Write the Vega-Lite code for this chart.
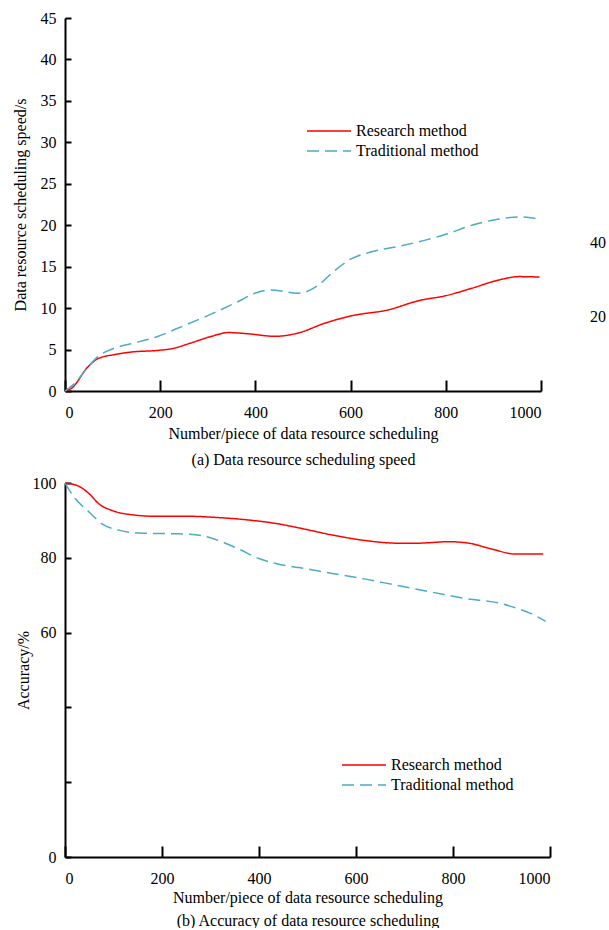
{
  "$schema": "https://vega.github.io/schema/vega-lite/v6.json",
  "padding": {"left": 12, "top": 10, "right": 5, "bottom": 0},
  "background": "white",
  "config": {
    "view": {"stroke": null},
    "font": "Liberation Serif, serif",
    "axis": {
      "domainColor": "black",
      "domainWidth": 2,
      "tickColor": "black",
      "tickWidth": 2,
      "grid": false,
      "labelFont": "Liberation Serif, serif",
      "labelFontSize": 16,
      "labelColor": "black",
      "titleFont": "Liberation Serif, serif",
      "titleFontSize": 16,
      "titleFontWeight": "normal",
      "titleColor": "black",
      "format": "d"
    },
    "axisX": {"tickSize": -11, "labelPadding": 24, "labelAngle": 0, "titleLineHeight": 24, "titlePadding": 5},
    "axisY": {"tickSize": -6, "labelPadding": 15},
    "legend": {
      "orient": "none",
      "symbolType": "M-2,0L2,0",
      "symbolSize": 484,
      "symbolStrokeWidth": 1.5,
      "labelFont": "Liberation Serif, serif",
      "labelFontSize": 16,
      "labelColor": "black",
      "rowPadding": 0,
      "labelOffset": 15,
      "title": null
    }
  },
  "datasets": {
    "speed": [
      {"n": 0, "v": 0, "method": "Research method"},
      {"n": 13, "v": 0.3, "method": "Research method"},
      {"n": 48, "v": 2.9, "method": "Research method"},
      {"n": 69, "v": 3.9, "method": "Research method"},
      {"n": 105, "v": 4.4, "method": "Research method"},
      {"n": 139, "v": 4.7, "method": "Research method"},
      {"n": 196, "v": 4.9, "method": "Research method"},
      {"n": 224, "v": 5.1, "method": "Research method"},
      {"n": 265, "v": 5.8, "method": "Research method"},
      {"n": 308, "v": 6.6, "method": "Research method"},
      {"n": 343, "v": 7.05, "method": "Research method"},
      {"n": 385, "v": 6.9, "method": "Research method"},
      {"n": 441, "v": 6.6, "method": "Research method"},
      {"n": 490, "v": 7.0, "method": "Research method"},
      {"n": 547, "v": 8.2, "method": "Research method"},
      {"n": 600, "v": 9.05, "method": "Research method"},
      {"n": 680, "v": 9.8, "method": "Research method"},
      {"n": 743, "v": 10.9, "method": "Research method"},
      {"n": 800, "v": 11.5, "method": "Research method"},
      {"n": 855, "v": 12.4, "method": "Research method"},
      {"n": 912, "v": 13.4, "method": "Research method"},
      {"n": 954, "v": 13.8, "method": "Research method"},
      {"n": 997, "v": 13.75, "method": "Research method"},
      {"n": 0, "v": 0, "method": "Traditional method"},
      {"n": 20, "v": 0.9, "method": "Traditional method"},
      {"n": 48, "v": 2.9, "method": "Traditional method"},
      {"n": 69, "v": 4.15, "method": "Traditional method"},
      {"n": 105, "v": 5.2, "method": "Traditional method"},
      {"n": 139, "v": 5.7, "method": "Traditional method"},
      {"n": 196, "v": 6.6, "method": "Traditional method"},
      {"n": 238, "v": 7.6, "method": "Traditional method"},
      {"n": 308, "v": 9.3, "method": "Traditional method"},
      {"n": 364, "v": 10.8, "method": "Traditional method"},
      {"n": 399, "v": 11.8, "method": "Traditional method"},
      {"n": 432, "v": 12.2, "method": "Traditional method"},
      {"n": 490, "v": 11.8, "method": "Traditional method"},
      {"n": 533, "v": 12.8, "method": "Traditional method"},
      {"n": 560, "v": 14.2, "method": "Traditional method"},
      {"n": 600, "v": 15.9, "method": "Traditional method"},
      {"n": 644, "v": 16.8, "method": "Traditional method"},
      {"n": 701, "v": 17.45, "method": "Traditional method"},
      {"n": 757, "v": 18.2, "method": "Traditional method"},
      {"n": 800, "v": 18.9, "method": "Traditional method"},
      {"n": 855, "v": 20.0, "method": "Traditional method"},
      {"n": 912, "v": 20.75, "method": "Traditional method"},
      {"n": 954, "v": 21.0, "method": "Traditional method"},
      {"n": 997, "v": 20.75, "method": "Traditional method"}
    ],
    "accuracy": [
      {"n": 0, "v": 100, "method": "Research method"},
      {"n": 29, "v": 99.1, "method": "Research method"},
      {"n": 50, "v": 97.1, "method": "Research method"},
      {"n": 70, "v": 94.4, "method": "Research method"},
      {"n": 98, "v": 92.6, "method": "Research method"},
      {"n": 139, "v": 91.5, "method": "Research method"},
      {"n": 187, "v": 91.1, "method": "Research method"},
      {"n": 256, "v": 91.1, "method": "Research method"},
      {"n": 311, "v": 90.8, "method": "Research method"},
      {"n": 379, "v": 90.1, "method": "Research method"},
      {"n": 434, "v": 89.2, "method": "Research method"},
      {"n": 482, "v": 88.0, "method": "Research method"},
      {"n": 551, "v": 86.1, "method": "Research method"},
      {"n": 620, "v": 84.6, "method": "Research method"},
      {"n": 689, "v": 83.9, "method": "Research method"},
      {"n": 723, "v": 83.9, "method": "Research method"},
      {"n": 792, "v": 84.3, "method": "Research method"},
      {"n": 833, "v": 83.9, "method": "Research method"},
      {"n": 881, "v": 82.3, "method": "Research method"},
      {"n": 929, "v": 81.0, "method": "Research method"},
      {"n": 986, "v": 81.0, "method": "Research method"},
      {"n": 0, "v": 100, "method": "Traditional method"},
      {"n": 22, "v": 95.7, "method": "Traditional method"},
      {"n": 50, "v": 92.2, "method": "Traditional method"},
      {"n": 77, "v": 89.0, "method": "Traditional method"},
      {"n": 111, "v": 87.4, "method": "Traditional method"},
      {"n": 152, "v": 86.6, "method": "Traditional method"},
      {"n": 235, "v": 86.4, "method": "Traditional method"},
      {"n": 283, "v": 85.9, "method": "Traditional method"},
      {"n": 317, "v": 84.6, "method": "Traditional method"},
      {"n": 359, "v": 82.3, "method": "Traditional method"},
      {"n": 400, "v": 79.8, "method": "Traditional method"},
      {"n": 441, "v": 78.3, "method": "Traditional method"},
      {"n": 482, "v": 77.4, "method": "Traditional method"},
      {"n": 551, "v": 75.8, "method": "Traditional method"},
      {"n": 620, "v": 74.3, "method": "Traditional method"},
      {"n": 689, "v": 72.5, "method": "Traditional method"},
      {"n": 757, "v": 70.8, "method": "Traditional method"},
      {"n": 826, "v": 69.1, "method": "Traditional method"},
      {"n": 895, "v": 67.9, "method": "Traditional method"},
      {"n": 936, "v": 66.3, "method": "Traditional method"},
      {"n": 964, "v": 64.9, "method": "Traditional method"},
      {"n": 991, "v": 63.0, "method": "Traditional method"}
    ],
    "stray": [
      {"n": 1120, "v": 17.86, "t": "40"},
      {"n": 1120, "v": 8.93, "t": "20"}
    ]
  },
  "vconcat": [
    {
      "width": 476,
      "height": 373,
      "layer": [
        {
          "data": {"name": "speed"},
          "mark": {"type": "line", "interpolate": "monotone", "strokeWidth": 1.5},
          "encoding": {
            "x": {
              "field": "n", "type": "quantitative",
              "scale": {"domain": [0, 1000], "nice": false},
              "axis": {"values": [0, 200, 400, 600, 800, 1000], "title": ["Number/piece of data resource scheduling", "(a) Data resource scheduling speed"], "titleLineHeight": 26}
            },
            "y": {
              "field": "v", "type": "quantitative",
              "scale": {"domain": [0, 45], "nice": false},
              "axis": {"values": [0, 5, 10, 15, 20, 25, 30, 35, 40, 45], "title": "Data resource scheduling speed/s", "titlePadding": 12}
            },
            "color": {
              "field": "method", "type": "nominal",
              "scale": {"domain": ["Research method", "Traditional method"], "range": ["#ff0000", "#4bacc6"]},
              "legend": {"legendX": 252, "legendY": 101}
            },
            "strokeDash": {
              "field": "method", "type": "nominal",
              "scale": {"domain": ["Research method", "Traditional method"], "range": [[1, 0], [12, 6]]},
              "legend": {"legendX": 252, "legendY": 101}
            }
          }
        },
        {
          "data": {"name": "stray"},
          "mark": {"type": "text", "font": "Liberation Serif, serif", "fontSize": 16, "color": "black", "align": "center", "baseline": "middle"},
          "encoding": {
            "x": {"field": "n", "type": "quantitative"},
            "y": {"field": "v", "type": "quantitative"},
            "text": {"field": "t"}
          }
        }
      ]
    },
    {
      "width": 485,
      "height": 374,
      "data": {"name": "accuracy"},
      "mark": {"type": "line", "interpolate": "monotone", "strokeWidth": 1.5},
      "encoding": {
        "x": {
          "field": "n", "type": "quantitative",
          "scale": {"domain": [0, 1000], "nice": false},
          "axis": {"values": [0, 200, 400, 600, 800, 1000], "title": ["Number/piece of data resource scheduling", "(b) Accuracy of data resource scheduling"], "titleLineHeight": 23, "titlePadding": 3}
        },
        "y": {
          "field": "v", "type": "quantitative",
          "scale": {"domain": [0, 100], "nice": false},
          "axis": {"values": [0, 20, 40, 60, 80, 100], "labelExpr": "datum.value == 20 || datum.value == 40 ? '' : datum.label", "title": "Accuracy/%", "titlePadding": 1}
        },
        "color": {
          "field": "method", "type": "nominal",
          "scale": {"domain": ["Research method", "Traditional method"], "range": ["#ff0000", "#4bacc6"]},
          "legend": {"legendX": 287, "legendY": 270}
        },
        "strokeDash": {
          "field": "method", "type": "nominal",
          "scale": {"domain": ["Research method", "Traditional method"], "range": [[1, 0], [12, 6]]},
          "legend": {"legendX": 287, "legendY": 270}
        }
      }
    }
  ],
  "spacing": 8,
  "resolve": {"scale": {"color": "independent", "strokeDash": "independent"}, "legend": {"color": "independent", "strokeDash": "independent"}}
}
